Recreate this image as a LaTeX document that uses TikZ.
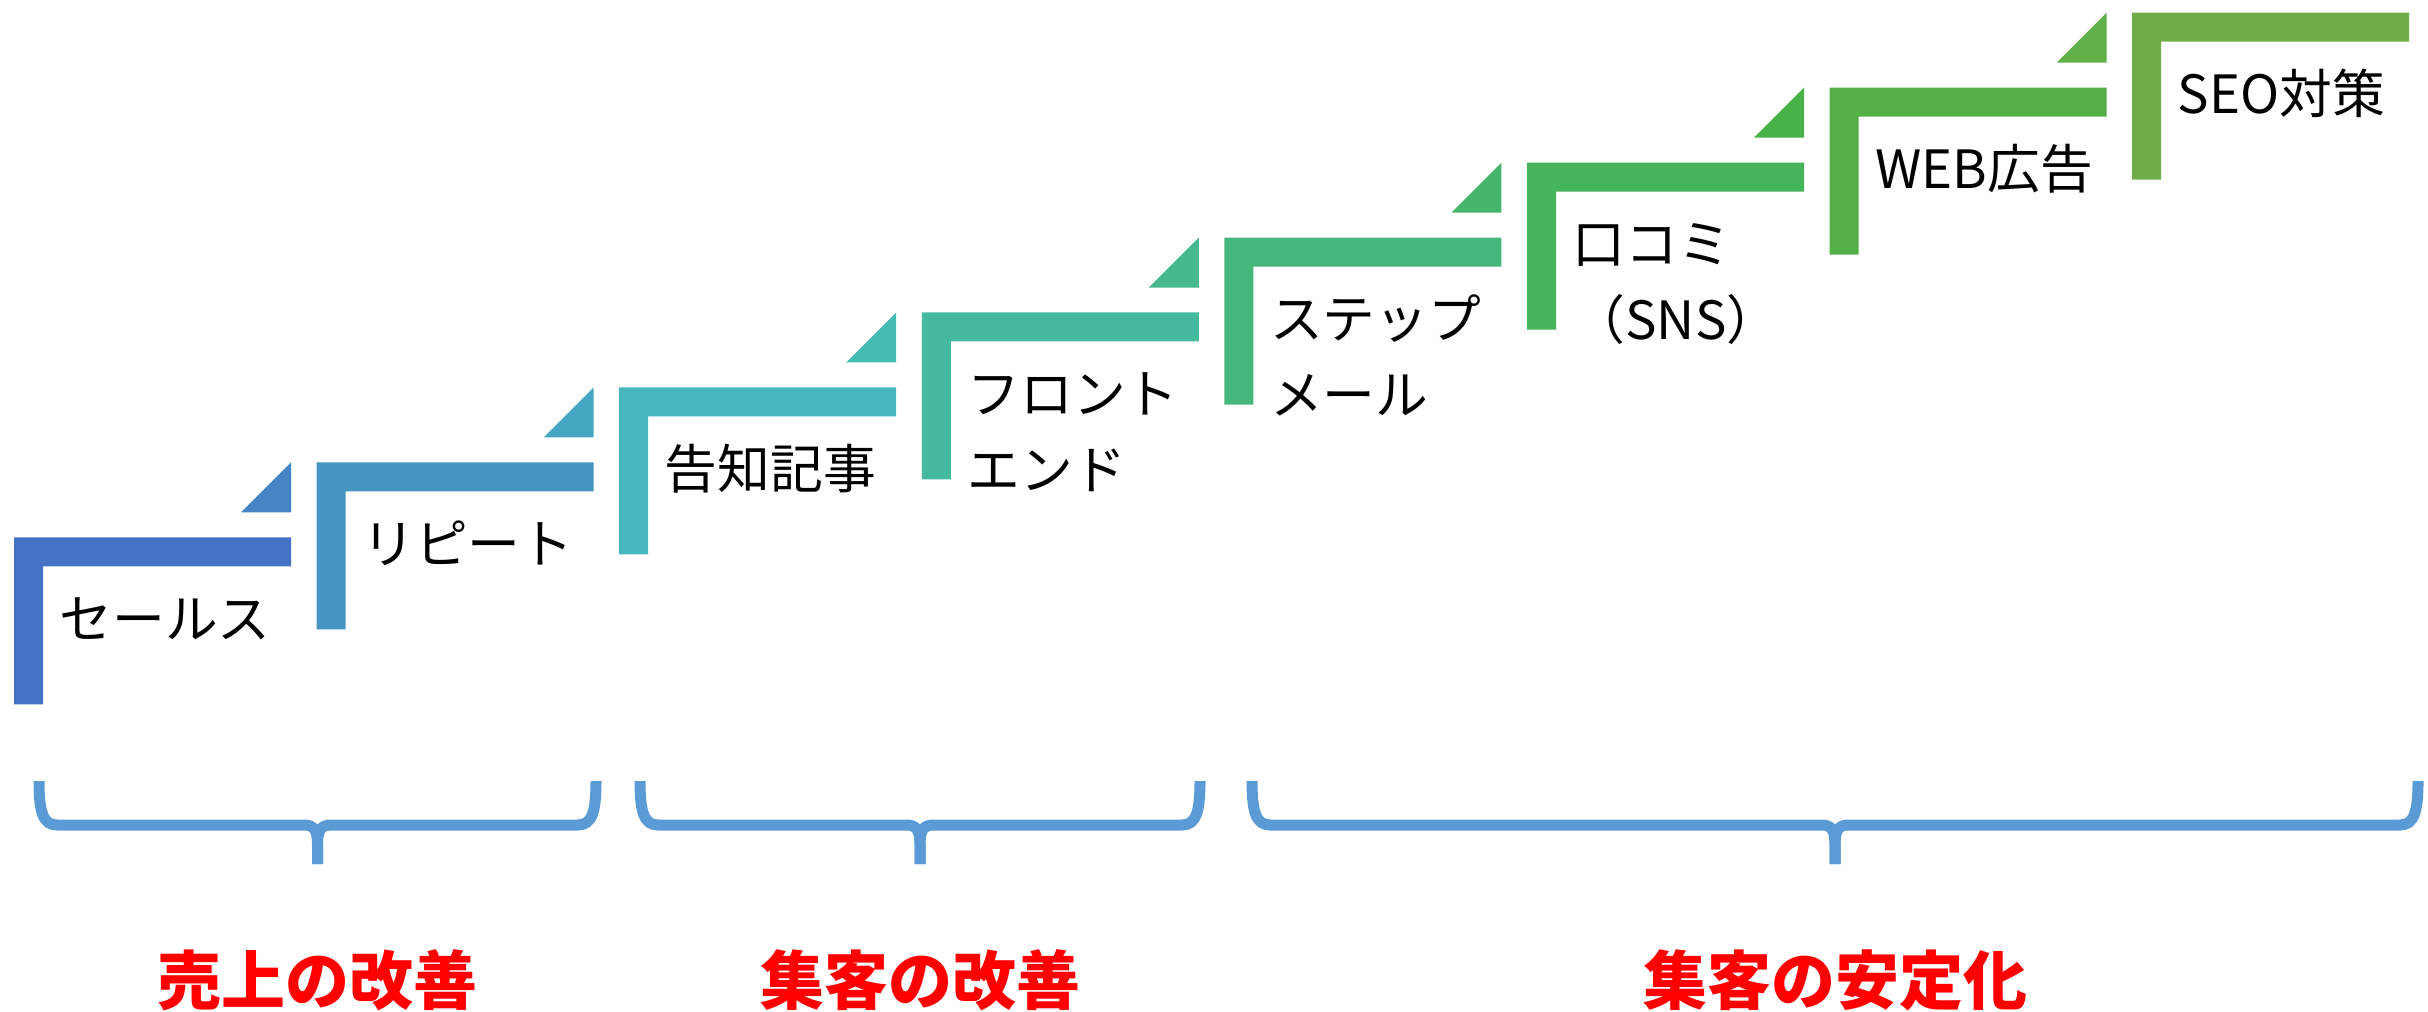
\documentclass[tikz,border=0pt]{standalone}
\usepackage{fontspec}
\setmainfont{Noto Sans CJK JP}
\definecolor{c0}{Hsb}{218.4,0.653,0.769}
\definecolor{c1}{Hsb}{209.65,0.649,0.7625}
\definecolor{c2}{Hsb}{200.9,0.644,0.756}
\definecolor{c3}{Hsb}{192.15,0.640,0.7495}
\definecolor{c4}{Hsb}{183.4,0.635,0.743}
\definecolor{c5}{Hsb}{174.65,0.631,0.7365}
\definecolor{c6}{Hsb}{165.9,0.626,0.730}
\definecolor{c7}{Hsb}{157.15,0.6215,0.7235}
\definecolor{c8}{Hsb}{148.4,0.617,0.717}
\definecolor{c9}{Hsb}{139.65,0.6125,0.7105}
\definecolor{c10}{Hsb}{130.9,0.608,0.704}
\definecolor{c11}{Hsb}{122.15,0.6035,0.6975}
\definecolor{c12}{Hsb}{113.4,0.599,0.691}
\definecolor{c13}{Hsb}{104.65,0.5945,0.6845}
\definecolor{c14}{Hsb}{95.9,0.59,0.678}
\definecolor{braceblue}{HTML}{5B9BD5}
\definecolor{grpred}{HTML}{FF0000}
\begin{document}
\begin{tikzpicture}[x=0.01cm,y=-0.01cm,
  lbl/.style={anchor=base west,inner sep=0pt,font=\fontsize{15pt}{21.6pt}\selectfont},
  grp/.style={anchor=base,inner sep=0pt,text=grpred,font=\fontsize{18.2pt}{18.2pt}\selectfont\bfseries},
  brace/.style={draw=braceblue,line width=0.11cm,line join=round}]
\useasboundingbox (0,0) rectangle (2428,1011);
% steps
\foreach \i/\sc in {0/c0,1/c2,2/c4,3/c6,4/c8,5/c10,6/c12,7/c14}{
  \pgfmathsetmacro\L{14+302.6*\i}
  \pgfmathsetmacro\T{537.3-74.94*\i}
  \fill[\sc] (\L,\T) -- ++(277,0) -- ++(0,29) -- ++(-248,0) -- ++(0,138) -- ++(-29,0) -- cycle;
}
% small triangles
\foreach \i/\tc in {0/c1,1/c3,2/c5,3/c7,4/c9,5/c11,6/c13}{
  \pgfmathsetmacro\R{14+302.6*\i+277}
  \pgfmathsetmacro\T{537.3-74.94*(\i+1)}
  \fill[\tc] (\R,\T) -- ++(0,50) -- ++(-50,0) -- cycle;
}
% labels
\node[lbl] (t1) at (59,638) {セールス};
\node[lbl] (t2) at (361.6,563) {リピート};
\node[lbl] (t3) at (664.2,488) {告知記事};
\node[lbl] (t4) at (966.8,413.5) {\vtop{\baselineskip=21.6pt\hbox{フロント}\hbox{エンド}}};
\node[lbl] (t5) at (1269.4,338.5) {\vtop{\baselineskip=21.6pt\hbox{ステップ}\hbox{メール}}};
\node[lbl] (t6) at (1572,263.5) {\vtop{\baselineskip=21.6pt\hbox{口コミ}\hbox{（SNS）}}};
\node[lbl] (t7) at (1874.6,188.5) {WEB広告};
\node[lbl] (t8) at (2177.2,113.5) {SEO対策};
% braces
\foreach \a/\b/\n in {39/596/1,640/1200/2,1252/2418/3}{
  \pgfmathsetmacro\c{(\a+\b)/2}
  \draw[brace] (\a,781) .. controls (\a,812) and (\a+4,825) .. (\a+18,825)
     -- (\c-14,825) .. controls (\c-4,825) and (\c,829) .. (\c,845) -- (\c,864);
  \draw[brace] (\b,781) .. controls (\b,812) and (\b-4,825) .. (\b-18,825)
     -- (\c+14,825) .. controls (\c+4,825) and (\c,829) .. (\c,845) -- (\c,864);
  \coordinate (tip\n) at (\c,1004);
}
\node[grp] (g1) at (tip1) {売上の改善};
\node[grp] (g2) at (tip2) {集客の改善};
\node[grp] (g3) at (tip3) {集客の安定化};
\end{tikzpicture}
\end{document}
